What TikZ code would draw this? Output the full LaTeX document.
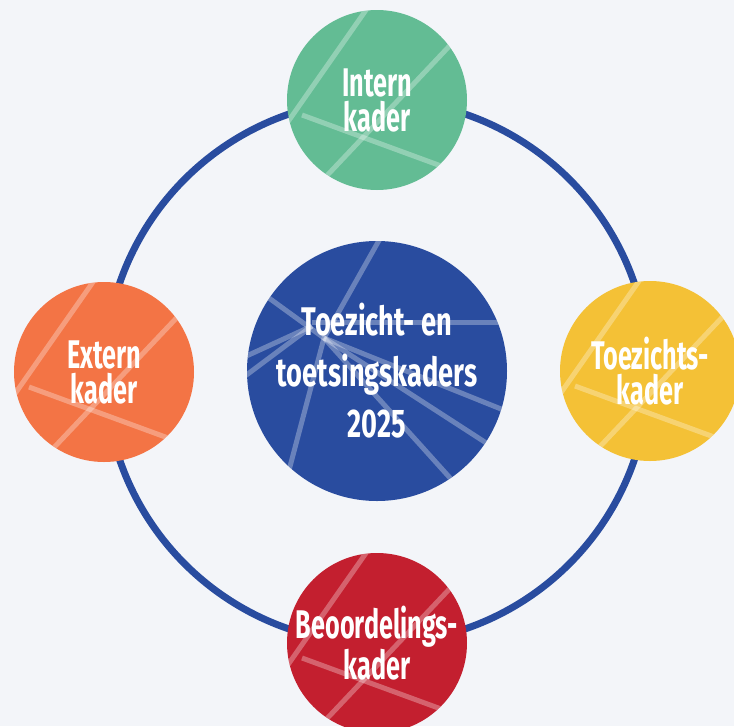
\documentclass[tikz,border=0pt]{standalone}
\usepackage{fontspec}
\newfontfamily\kaderfont{Fira Sans}[FakeStretch=0.63]
\newfontfamily\kernfont{Fira Sans}[FakeStretch=0.68]
\definecolor{achtergrond}{HTML}{F3F5F9}
\definecolor{ringblauw}{HTML}{294C9F}
\definecolor{internkleur}{HTML}{63BC94}
\definecolor{externkleur}{HTML}{F37445}
\definecolor{toezichtkleur}{HTML}{F4C136}
\definecolor{oordeelkleur}{HTML}{C31F2F}

\begin{document}
\begin{tikzpicture}[x=1pt,y=-1pt,
ring/.style={draw=ringblauw, line width=7pt},
streep/.style={white, opacity=0.3, line width=5pt},
kader/.style={circle, minimum size=180pt, inner sep=0pt, text=white, align=center,
  font=\kaderfont\bfseries\fontsize{40}{35}\selectfont},
kern/.style={circle, minimum size=260pt, inner sep=0pt, fill=ringblauw, text=white, align=center,
  font=\kernfont\bfseries\fontsize{40}{51}\selectfont}]
\def\R{272}
\useasboundingbox[fill=achtergrond] (0,0) rectangle (734,726);

% ring
\draw[ring] (377,371.5) circle (\R pt);

% centre
\node[kern] (kern) at (377,371) {Toezicht- en\\toetsingskaders\\2025};

% kaders
\node[kader, fill=internkleur] (intern) at (377,100) {Intern\\kader};
\node[kader, fill=toezichtkleur] (toezicht) at (650,371) {Toezichts-\\kader};
\node[kader, fill=oordeelkleur] (oordeel) at (377,643) {Beoordelings-\\kader};
\node[kader, fill=externkleur] (extern) at (104,372) {Extern\\kader};

% lichte strepen (wit over witte tekst valt weg)
\begin{scope}[shift={(kern)}]
  \clip (0,0) circle (130pt);
  \draw[streep] (-53,-33) -- (9,-143);
  \draw[streep] (-53,-33) -- (-126,-86);
  \draw[streep] (-65,-45) -- (-148,-7);
  \draw[streep] (-65,-45) -- (-148,17);
  \draw[streep] (-65,-49) -- (150,-49);
  \draw[streep] (-53,-33) -- (-94,122);
  \draw[streep] (-53,-33) -- (149,48);
  \draw[streep] (-53,-33) -- (134,88);
  \draw[streep] (-53,-33) -- (92,128);
\end{scope}
\foreach \k in {intern,toezicht,oordeel,extern}{
  \begin{scope}[shift={(\k)}]
    \clip (0,0) circle (90pt);
    \draw[streep] (-4,-100) -- (-92,26);
    \draw[streep] (-75,15) -- (75,70);
    \draw[streep] (80,-62) -- (-58,84);
  \end{scope}
}
\end{tikzpicture}
\end{document}
